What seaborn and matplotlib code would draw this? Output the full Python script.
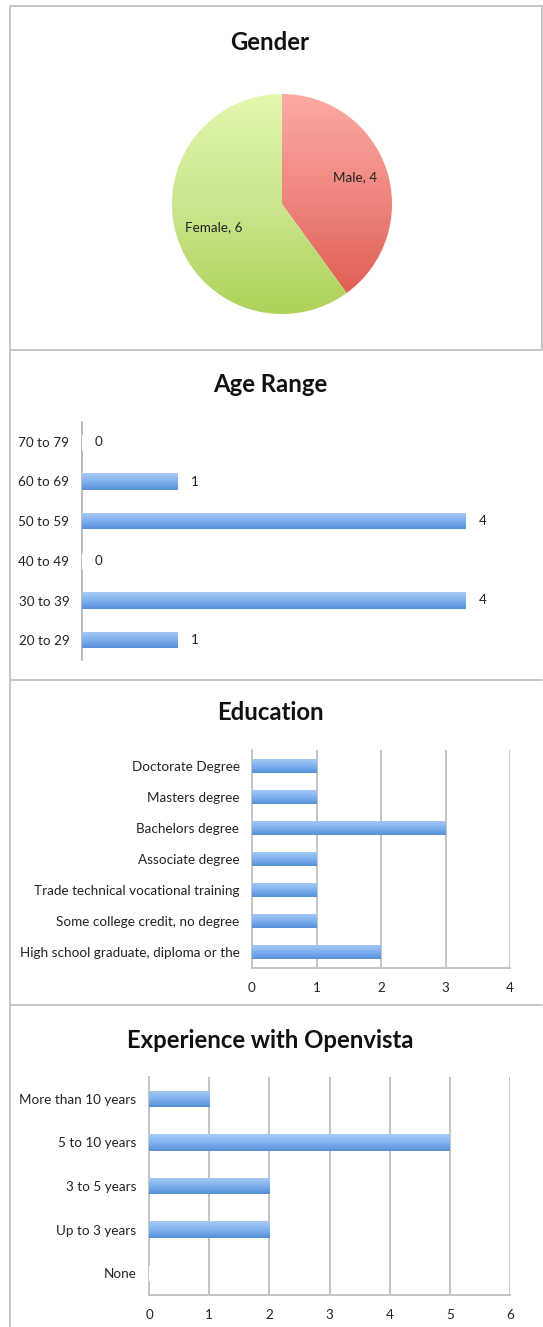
import numpy as np
import pandas as pd
import matplotlib
matplotlib.use("Agg")
import matplotlib.pyplot as plt
from matplotlib.colors import LinearSegmentedColormap
from matplotlib.lines import Line2D
import seaborn as sns

# ---- data ----
gender_labels = ["Male", "Female"]
gender_counts = [4, 6]

age_labels = ["70 to 79", "60 to 69", "50 to 59", "40 to 49", "30 to 39", "20 to 29"]
age_counts = [0, 1, 4, 0, 4, 1]

edu_labels = ["Doctorate Degree", "Masters degree", "Bachelors degree", "Associate degree",
              "Trade technical vocational training", "Some college credit, no degree",
              "High school graduate, diploma or the"]
edu_counts = [1, 1, 3, 1, 1, 1, 2]
edu_ticks = [0, 1, 2, 3, 4]

exp_labels = ["More than 10 years", "5 to 10 years", "3 to 5 years", "Up to 3 years", "None"]
exp_counts = [1, 5, 2, 2, 0]
exp_ticks = [0, 1, 2, 3, 4, 5, 6]

sns.set_theme(style="white")
plt.rcParams["font.family"] = ["Lato", "DejaVu Sans"]

LABEL_FS = 9.7
TITLE_FS = 17.2

W, H = 543, 1327
fig = plt.figure(figsize=(W / 100, H / 100), dpi=100)
fig.patch.set_facecolor("white")


def px_axes(left, top, right, bottom):
    return fig.add_axes([left / W, 1 - bottom / H, (right - left) / W, (bottom - top) / H])


def fig_line(x0, y0, x1, y1, color="#c6c6c6", lw=1.4):
    fig.add_artist(Line2D([x0 / W, x1 / W], [1 - y0 / H, 1 - y1 / H],
                          transform=fig.transFigure, color=color, lw=lw))


# panel frames
fig_line(10, 6, 542, 6)
fig_line(10, 6, 10, H)
fig_line(542, 6, 542, 350)
for yb in (350, 680, 1005):
    fig_line(10, yb, 542, yb)

title_kw = dict(ha="center", va="center", fontsize=TITLE_FS, fontweight="bold", color="#111111")
fig.text(270 / W, 1 - 42 / H, "Gender", **title_kw)
fig.text(270 / W, 1 - 385 / H, "Age Range", **title_kw)
fig.text(270 / W, 1 - 713 / H, "Education", **title_kw)
fig.text(270 / W, 1 - 1040 / H, "Experience with Openvista", **title_kw)

bar_cmap = LinearSegmentedColormap.from_list("bar", ["#a9cbf5", "#80b2ef", "#5790d8"])
grad = np.linspace(0, 1, 64).reshape(-1, 1)


def shade_bars(ax):
    xl, yl = ax.get_xlim(), ax.get_ylim()
    for p in list(ax.patches):
        x0, y0, w, h = p.get_x(), p.get_y(), p.get_width(), p.get_height()
        if w <= 0:
            continue
        p.set_edgecolor("none")
        im = ax.imshow(grad, cmap=bar_cmap, aspect="auto", origin="upper",
                       extent=(x0, x0 + w, y0 + h, y0), zorder=p.get_zorder() + 0.1,
                       interpolation="bilinear")
        im.set_clip_path(p)
    ax.set_xlim(xl)
    ax.set_ylim(yl)


def hbar(ax, labels, counts, width):
    df = pd.DataFrame({"cat": labels, "n": counts})
    sns.barplot(data=df, x="n", y="cat", order=labels, orient="h", color="#80b2ef",
                width=width, ax=ax, zorder=3)
    ax.set_xlabel("")
    ax.set_ylabel("")
    for s in ("top", "right"):
        ax.spines[s].set_visible(False)
    ax.tick_params(axis="y", length=0, pad=9, labelsize=LABEL_FS, labelcolor="#222222")


# ---- Gender pie ----
pax = px_axes(282 - 120, 204 - 120, 282 + 120, 204 + 120)
lim = 120 / 110
wedges, _ = pax.pie(gender_counts, startangle=90, counterclock=False,
                    colors=["#ee8078", "#c8e488"], radius=1.0)
pie_cmaps = [LinearSegmentedColormap.from_list("m", ["#fbaaa3", "#ee837b", "#db574a"]),
             LinearSegmentedColormap.from_list("f", ["#e2f8ae", "#cbe68e", "#aed25a"])]
for wdg, cm in zip(wedges, pie_cmaps):
    im = pax.imshow(grad, cmap=cm, aspect="auto", origin="upper",
                    extent=(-1, 1, -1, 1), zorder=2, interpolation="bilinear")
    im.set_clip_path(wdg)
pax.set_xlim(-lim, lim)
pax.set_ylim(-lim, lim)
pax.set_aspect("equal")
pax.axis("off")
pax.text(0.66, 0.24, f"{gender_labels[0]}, {gender_counts[0]}", ha="center", va="center",
         fontsize=LABEL_FS, color="#222222", zorder=5)
pax.text(-0.62, -0.21, f"{gender_labels[1]}, {gender_counts[1]}", ha="center", va="center",
         fontsize=LABEL_FS, color="#222222", zorder=5)

# ---- Age range ----
aax = px_axes(82, 422, 530, 660)
hbar(aax, age_labels, age_counts, 0.42)
aax.set_xlim(0, 448 / 96)
aax.spines["bottom"].set_visible(False)
aax.spines["left"].set_color("#b0b0b0")
aax.spines["left"].set_linewidth(1.2)
aax.set_xticks([])
for i, v in enumerate(age_counts):
    aax.annotate(str(v), xy=(v, i), xytext=(9, 0), textcoords="offset points",
                 ha="left", va="center", fontsize=LABEL_FS, color="#222222")
shade_bars(aax)


def grid_axes(ax, ticks):
    ax.set_xlim(ticks[0], ticks[-1])
    ax.set_xticks(ticks)
    ax.xaxis.grid(True, color="#c4c4c4", lw=1.4, zorder=0)
    ax.set_axisbelow(True)
    for s in ("left", "bottom"):
        ax.spines[s].set_color("#c4c4c4")
        ax.spines[s].set_linewidth(1.4)
    ax.tick_params(axis="x", length=0, pad=10, labelsize=LABEL_FS, labelcolor="#222222")


# ---- Education ----
eax = px_axes(252, 750, 510, 968)
hbar(eax, edu_labels, edu_counts, 0.45)
grid_axes(eax, edu_ticks)
shade_bars(eax)

# ---- Experience ----
xax = px_axes(149, 1077, 510, 1295)
hbar(xax, exp_labels, exp_counts, 0.38)
grid_axes(xax, exp_ticks)
shade_bars(xax)

fig.savefig("out.png", dpi=100, facecolor="white")
